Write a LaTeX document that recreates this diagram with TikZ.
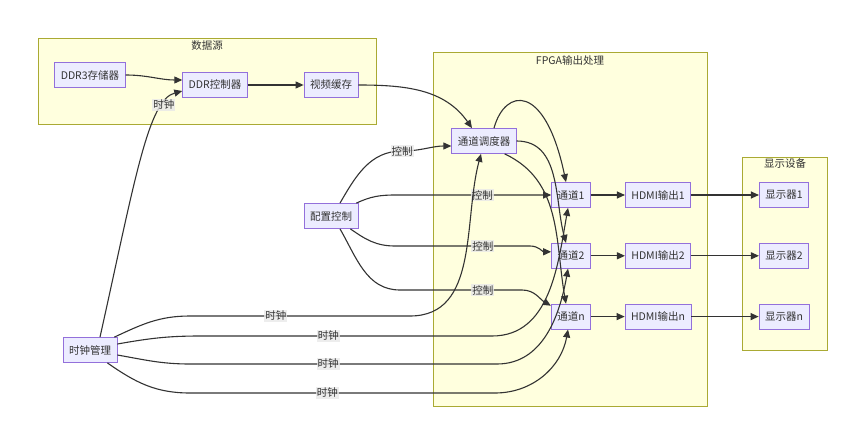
\documentclass[tikz,border=0pt]{standalone}
\usepackage{fontspec}
\setmainfont{Noto Sans CJK SC}
\usepackage{tikz}
\usetikzlibrary{arrows.meta}
\usetikzlibrary{positioning}
\definecolor{txt}{HTML}{333333}
\definecolor{boxfill}{HTML}{ECECFF}
\definecolor{boxline}{HTML}{9370DB}
\definecolor{grpfill}{HTML}{FFFFDE}
\definecolor{grpline}{HTML}{AAAA33}
\definecolor{edgecol}{HTML}{333333}
\definecolor{lblbg}{HTML}{E8E8E8}

\begin{document}
\begin{tikzpicture}[x=1pt,y=1pt,node distance=35pt,
  every node/.style={font=\fontsize{10.5}{12}\selectfont,text=txt},
  box/.style={draw=boxline,fill=boxfill,line width=.8pt,minimum height=25pt,inner xsep=6pt,inner ysep=0pt},
  grp/.style={draw=grpline,fill=grpfill,line width=.8pt},
  lbl/.style={fill=lblbg,fill opacity=.8,text opacity=1,inner sep=1pt},
  edge/.style={draw=edgecol,line width=1.1pt,-{Triangle[length=8pt,width=7pt]}}]
  \useasboundingbox (0,0) rectangle (859,-428);
  \draw[grp] (38,-38) rectangle (376,-124);
  \node (t1) at (207,-46) {数据源};
  \draw[grp] (433,-52) rectangle (707,-406);
  \node (t2) at (570,-60) {FPGA输出处理};
  \draw[grp] (742,-157) rectangle (827,-350);
  \node (t3) at (785,-164) {显示设备};

  \node[box] (ddr3) at (90,-75) {DDR3存储器};
  \node[box] (ddrc) at (215,-85) {DDR控制器};
  \node[box] (vbuf) at (331,-85) {视频缓存};
  \node[box] (sched) at (484,-141) {通道调度器};
  \node[box] (cfg) at (331,-216) {配置控制};
  \node[box] (clk) at (90,-350) {时钟管理};
  \node[box] (ch1) at (571,-195) {通道1};
  \node[box,below=of ch1] (ch2) {通道2};
  \node[box,below=of ch2] (chn) {通道n};
  \node[box] (hd1) at (658,-195) {HDMI输出1};
  \node[box,below=of hd1] (hd2) {HDMI输出2};
  \node[box,below=of hd2] (hdn) {HDMI输出n};
  \node[box] (mon1) at (784,-195) {显示器1};
  \node[box,below=of mon1] (mon2) {显示器2};
  \node[box,below=of mon2] (monn) {显示器n};

  \draw[edge] (ddr3.east) to[out=0,in=180] ([yshift=5pt]ddrc.west);
  \draw[edge] ([xshift=10pt]clk.north) .. controls (135,-180) and (148,-100) .. node[lbl,pos=.8]{时钟} ([yshift=-6pt]ddrc.west);
  \draw[edge] (ddrc) -- (vbuf);
  \draw[edge] (vbuf.east) to[out=0,in=125] ([xshift=-12pt]sched.north);

  \draw[edge] ([xshift=9pt]cfg.north) to[out=60,in=180] node[lbl,pos=1]{控制} (402,-151) to[out=0,in=180] ([yshift=-5pt]sched.west);
  \draw[edge] ([xshift=-2pt]cfg.north east) to[out=25,in=180] (395,-195) -- node[lbl,pos=.56]{控制} (ch1.west);
  \draw[edge] ([xshift=-8pt]cfg.south east) to[out=-35,in=180] (395,-246) -- node[lbl,pos=.65]{控制} (530,-246) to[out=0,in=180] ([yshift=4pt]ch2.west);
  \draw[edge] ([xshift=9pt]cfg.south) to[out=-60,in=180] (400,-290) -- node[lbl,pos=.68]{控制} (522,-290) to[out=0,in=150] ([yshift=-2pt]chn.north west);

  \draw[edge] ([xshift=-3pt]clk.north east) to[out=25,in=180] (190,-316) -- node[lbl,pos=.39]{时钟} (410,-316) to[out=0,in=-105] ([xshift=-3pt]sched.south);
  \draw[edge] ([yshift=6pt]clk.east) to[out=10,in=180] (200,-336) -- node[lbl,pos=.44]{时钟} (492,-336) to[out=0,in=-100] ([xshift=-3pt]ch1.south);
  \draw[edge] ([yshift=-5pt]clk.east) to[out=-10,in=180] (190,-364) -- node[lbl,pos=.45]{时钟} (497,-364) to[out=0,in=-100] ([xshift=-3pt]ch2.south);
  \draw[edge] ([xshift=-10pt]clk.south east) to[out=-35,in=180] (190,-393) -- node[lbl,pos=.45]{时钟} (495,-393) to[out=0,in=-100] ([xshift=-3pt]chn.south);

  \draw[edge] ([xshift=10pt]sched.north) .. controls (505,-88) and (545,-82) .. ([xshift=-5pt]ch1.north);
  \draw[edge] (sched.east) to[out=0,in=105] ([xshift=-5pt]ch2.north);
  \draw[edge] ([xshift=-12pt]sched.south east) to[out=-25,in=100] ([xshift=-5pt]chn.north);

  \foreach \i in {1,2,n} {
    \draw[edge] (ch\i) -- (hd\i);
    \draw[edge] (hd\i) -- (mon\i);
  }
\end{tikzpicture}
\end{document}
